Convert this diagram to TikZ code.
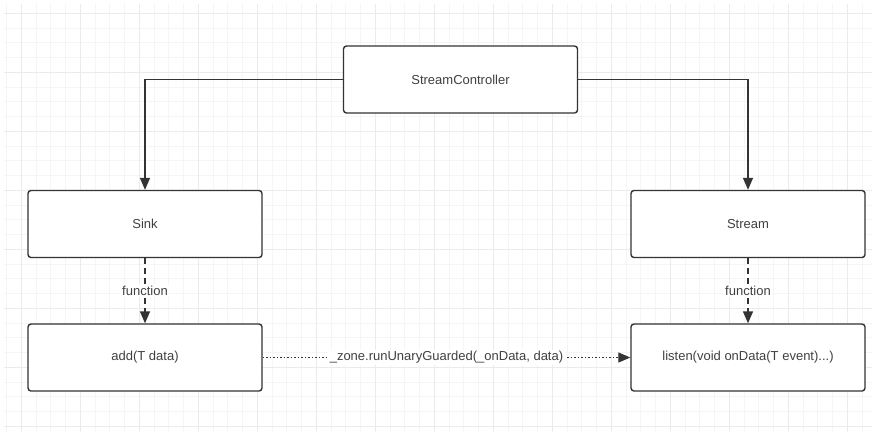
\documentclass[tikz,border=0pt]{standalone}
\usepackage{fontspec}
\setmainfont{Liberation Sans}
\usetikzlibrary{arrows.meta}

\tikzset{
	box/.style={draw=black!80, line width=1.4pt, rounded corners=3pt, fill=white,
		minimum width=234pt, minimum height=67pt, inner sep=0pt,
		font=\fontsize{13}{15}\selectfont, text=black!75},
	flow/.style={draw=black!80, line width=1.4pt, -{Triangle[length=12pt,width=10pt]}},
	tag/.style={fill=white, inner sep=1.5pt, font=\fontsize{13}{15}\selectfont, text=black!75},
	minorline/.style={draw=black!4, line width=0.5pt},
	majorline/.style={draw=black!8, line width=0.8pt}
}

\begin{document}
\begin{tikzpicture}[x=1pt,y=-1pt]
	\useasboundingbox (0,0) rectangle (872,440);
	\fill[white] (0,0) rectangle (872,440);
	% background grid
	\foreach \gx in {6.25,21,...,872}
		\draw[minorline] (\gx,4) -- (\gx,432);
	\foreach \gy in {13,27.75,...,432}
		\draw[minorline] (4,\gy) -- (872,\gy);
	\foreach \gx in {21,80,...,872}
		\draw[majorline] (\gx,4) -- (\gx,432);
	\foreach \gy in {13,72,...,432}
		\draw[majorline] (4,\gy) -- (872,\gy);

	\node[box] (ctrl) at (460.5,79.5) {StreamController};
	\node[box] (sink) at (145,224) {Sink};
	\node[box] (stream) at (748,224) {Stream};
	\node[box] (add) at (145,357.5) {add(T data)};
	\node[box] (listen) at (748,357.5) {listen(void onData(T event)...)};

	\draw[flow] (ctrl.west) -| (sink.north);
	\draw[flow] (ctrl.east) -| (stream.north);
	\draw[flow, dash pattern=on 6pt off 4pt] (sink) -- node[tag] {function} (add);
	\draw[flow, dash pattern=on 6pt off 4pt] (stream) -- node[tag] {function} (listen);
	\draw[flow, line width=1.2pt, dash pattern=on 1.5pt off 2pt]
		(add) -- node[tag] {\_zone.runUnaryGuarded(\_onData, data)} (listen);
\end{tikzpicture}
\end{document}
